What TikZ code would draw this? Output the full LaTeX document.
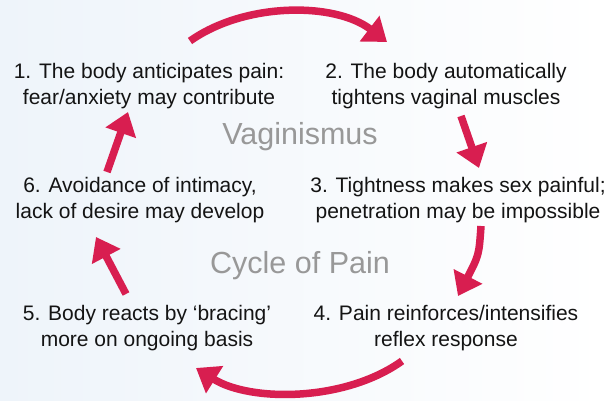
\documentclass[tikz,border=0pt]{standalone}
\usepackage{fontspec}
\setmainfont{Liberation Sans}
\usetikzlibrary{arrows.meta}
\definecolor{arrowred}{RGB}{216,30,80}
\definecolor{titlegray}{RGB}{152,152,152}
\definecolor{bgblue}{RGB}{238,244,250}
\tikzset{
  stagetext/.style={align=center, text=black!92, font=\fontsize{21}{26.5}\selectfont, inner sep=0pt},
  titletext/.style={text=titlegray, font=\fontsize{30.5}{34}\selectfont, inner sep=0pt},
  cycarrow/.style={draw=arrowred, line width=7.5pt, -{Triangle[length=22pt,width=31pt]}},
}
\begin{document}
\begin{tikzpicture}[x=1pt,y=-1pt]
\useasboundingbox (0,0) rectangle (606,401);
\shade[left color=bgblue, right color=white] (0,0) rectangle (606,401);
% stage texts
\node[stagetext] (s1) at (149,86) {1. The body anticipates pain:\\fear/anxiety may contribute};
\node[stagetext] (s2) at (446,86) {2. The body automatically\\tightens vaginal muscles};
\node[stagetext] (s3) at (458,200) {3. Tightness makes sex painful;\\penetration may be impossible};
\node[stagetext] (s4) at (446,328) {4. Pain reinforces/intensifies\\reflex response};
\node[stagetext] (s5) at (147,328) {5. Body reacts by `bracing'\\more on ongoing basis};
\node[stagetext] (s6) at (140,200) {6. Avoidance of intimacy,\\lack of desire may develop};
\node[titletext] (t1) at (300,137) {Vaginismus};
\node[titletext] (t2) at (300,266) {Cycle of Pain};
% arrow end points
\coordinate (a1s) at (190,41);
\coordinate (a1e) at (387,42);
\coordinate (a2s) at (461,116);
\coordinate (a2e) at (479,168);
\coordinate (a3s) at (481,226);
\coordinate (a3e) at (458,296);
\coordinate (a4s) at (402,361);
\coordinate (a4e) at (196,368);
\coordinate (a5s) at (126,294);
\coordinate (a5e) at (96,237);
\coordinate (a6s) at (107,172);
\coordinate (a6e) at (128,112);
% arrows
\draw[cycarrow] (a1s) .. controls (245,2) and (335,2) .. (a1e);
\draw[cycarrow] (a2s) -- (a2e);
\draw[cycarrow] (a3s) .. controls (479,255) .. (a3e);
\draw[cycarrow] (a4s) .. controls (345,402) and (250,402) .. (a4e);
\draw[cycarrow] (a5s) -- (a5e);
\draw[cycarrow] (a6s) -- (a6e);
\end{tikzpicture}
\end{document}
